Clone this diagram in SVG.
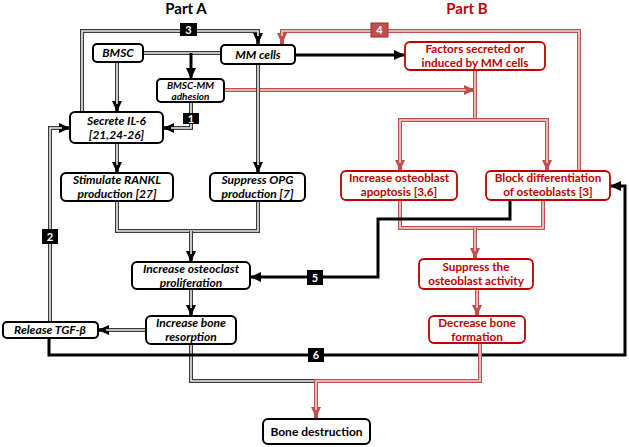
<svg xmlns="http://www.w3.org/2000/svg" width="629" height="447" viewBox="0 0 629 447">
<style>
.box{fill:#fff;stroke:#000;stroke-width:2}
.rbox{fill:#fff;stroke:#c00000;stroke-width:1.8}
.t{font-family:Lato,"Open Sans",sans-serif;font-weight:bold;font-style:italic;font-size:12px;text-anchor:middle;fill:#000}
.rt{font-family:Lato,"Open Sans",sans-serif;font-weight:bold;font-size:11.7px;text-anchor:middle;fill:#c00000}
.bt{font-family:Lato,"Open Sans",sans-serif;font-weight:bold;font-size:12px;text-anchor:middle;fill:#000}
.title{font-family:Lato,"Open Sans",sans-serif;font-weight:bold;font-size:15px;text-anchor:middle}
.go{fill:none;stroke:#3a3a3a;stroke-width:4}
.gi{fill:none;stroke:#ececec;stroke-width:1.6}
.ro{fill:none;stroke:#c0504d;stroke-width:4}
.ri{fill:none;stroke:#f4d2d1;stroke-width:1.6}
.bk{fill:none;stroke:#000;stroke-width:3}
.lbl{fill:#000}
.lt{font-family:Lato,"Open Sans",sans-serif;font-weight:bold;font-size:11px;text-anchor:middle;fill:#fff}
</style>
<defs>
<marker id="ab" markerUnits="userSpaceOnUse" markerWidth="12" markerHeight="12" viewBox="0 0 12 12" refX="11" refY="6" orient="auto">
<path d="M0,1 L11,6 L0,11 Z" fill="#000"/>
</marker>
<marker id="ar" markerUnits="userSpaceOnUse" markerWidth="12" markerHeight="12" viewBox="0 0 12 12" refX="11" refY="6" orient="auto">
<path d="M0,1 L11,6 L0,11 Z" fill="#c0504d"/>
</marker>
</defs>
<rect width="629" height="447" fill="#fff"/>
<text class="title" x="186" y="14" fill="#000">Part A</text>
<text class="title" x="467" y="14" fill="#c00000">Part B</text>

<g id="connectors">
<path class="go" d="M143,53 H221"/><path class="gi" d="M143,53 H221"/>
<path class="bk" d="M191,53 V79" marker-end="url(#ab)"/>
<path class="go" d="M117,62 V112" marker-end="url(#ab)"/><path class="gi" d="M117,62 V104"/>
<path class="go" d="M82,112 V31 H258 V44" marker-end="url(#ab)"/><path class="gi" d="M82,112 V31 H258 V36"/>
<path class="go" d="M191,102 V128 H163" marker-end="url(#ab)"/><path class="gi" d="M191,102 V128 H171"/>
<path class="ro" d="M224,90 H475" marker-end="url(#ar)"/><path class="ri" d="M224,90 H466"/>
<path class="go" d="M258,64 V173" marker-end="url(#ab)"/><path class="gi" d="M258,64 V165"/>
<path class="go" d="M117,143 V173" marker-end="url(#ab)"/><path class="gi" d="M117,143 V165"/>
<path class="go" d="M117,201 V231 H258 V201"/><path class="gi" d="M117,201 V231 H258 V201"/>
<path class="go" d="M191,231 V262" marker-end="url(#ab)"/><path class="gi" d="M191,231 V254"/>
<path class="go" d="M191,289 V316" marker-end="url(#ab)"/><path class="gi" d="M191,289 V308"/>
<path class="go" d="M146,330 H98" marker-end="url(#ab)"/><path class="gi" d="M146,330 H106"/>
<path class="go" d="M50,322 V128 H70" marker-end="url(#ab)"/><path class="gi" d="M50,322 V128 H62"/>
<path class="go" d="M191,344 V381 H316"/><path class="gi" d="M191,344 V381 H316"/>
<path class="bk" d="M49,338 V355 H625 V186 H610" marker-end="url(#ab)"/>
<path class="bk" d="M295,55 H405" marker-end="url(#ab)"/>
<path class="ro" d="M475,70 V120"/><path class="ri" d="M475,70 V120"/>
<path class="ro" d="M400,171 V120 H547 V171" marker-end="url(#ar)"/>
<path class="ro" d="M400,120 V171" marker-end="url(#ar)"/>
<path class="ri" d="M400,163 V120 H547 V163"/>
<path class="ro" d="M579,171 V31 H282 V44" marker-end="url(#ar)"/><path class="ri" d="M579,171 V31 H282 V36"/>
<path class="ro" d="M400,200 V228 H543 V200"/><path class="ri" d="M400,200 V228 H543 V200"/>
<path class="ro" d="M475,228 V259" marker-end="url(#ar)"/><path class="ri" d="M475,228 V251"/>
<path class="bk" d="M510,200 V219 H378 V277 H250" marker-end="url(#ab)"/>
<path class="ro" d="M477,289 V316" marker-end="url(#ar)"/><path class="ri" d="M477,289 V308"/>
<path class="ro" d="M480,343 V381 H316 V418" marker-end="url(#ar)"/><path class="ri" d="M480,343 V381 H316 V410"/>
<rect x="180" y="23" width="17" height="13" class="lbl"/><text class="lt" x="188.5" y="33.5">3</text>
<rect x="183" y="113" width="16" height="11" class="lbl"/><text class="lt" x="191" y="122.5">1</text>
<rect x="42" y="229" width="16" height="15" class="lbl"/><text class="lt" x="50" y="240.5">2</text>
<rect x="307" y="270" width="16" height="15" class="lbl"/><text class="lt" x="315" y="281.5">5</text>
<rect x="308" y="348" width="16" height="14" class="lbl"/><text class="lt" x="316" y="359">6</text>
<rect x="371" y="23" width="17" height="14" fill="#c0504d" stroke="#a32a27" stroke-width="1"/><text class="lt" x="379.5" y="34">4</text>
</g>

<g id="bmsc"><rect class="box" x="93" y="44" width="50" height="18" rx="4"/><text class="t" x="118" y="57">BMSC</text></g>
<g id="mm"><rect class="box" x="221" y="45" width="74" height="19" rx="4"/><text class="t" x="258" y="59">MM cells</text></g>
<g id="adhesion"><rect class="box" x="157" y="79" width="67" height="23" rx="4"/><text class="t" x="190.5" y="89" style="font-size:10px">BMSC-MM</text><text class="t" x="190.5" y="99.5" style="font-size:10px">adhesion</text></g>
<g id="il6"><rect class="box" x="70" y="112" width="93" height="31" rx="5"/><text class="t" x="116.5" y="125">Secrete IL-6</text><text class="t" x="116.5" y="139">[21,24-26]</text></g>
<g id="rankl"><rect class="box" x="61" y="173" width="112" height="28" rx="5"/><text class="t" x="117" y="184">Stimulate RANKL</text><text class="t" x="117" y="198">production [27]</text></g>
<g id="opg"><rect class="box" x="210" y="173" width="95" height="28" rx="5"/><text class="t" x="257.5" y="184">Suppress OPG</text><text class="t" x="257.5" y="198">production [7]</text></g>
<g id="osteoclast"><rect class="box" x="132" y="262" width="118" height="27" rx="5"/><text class="t" x="191" y="273">Increase osteoclast</text><text class="t" x="191" y="287">proliferation</text></g>
<g id="resorption"><rect class="box" x="146" y="316" width="90" height="28" rx="5"/><text class="t" x="191" y="327">Increase bone</text><text class="t" x="191" y="341">resorption</text></g>
<g id="tgf"><rect class="box" x="3" y="322" width="95" height="16" rx="4"/><text class="t" x="50" y="334">Release TGF-β</text></g>
<g id="factors"><rect class="rbox" x="405" y="42" width="140" height="28" rx="5"/><text class="rt" x="475" y="53">Factors secreted or</text><text class="rt" x="475" y="67">induced by MM cells</text></g>
<g id="apoptosis"><rect class="rbox" x="341" y="171" width="116" height="29" rx="5"/><text class="rt" x="399" y="182">Increase osteoblast</text><text class="rt" x="399" y="196">apoptosis [3,6]</text></g>
<g id="block"><rect class="rbox" x="486" y="171" width="124" height="29" rx="5"/><text class="rt" x="548" y="182">Block differentiation</text><text class="rt" x="548" y="196">of osteoblasts [3]</text></g>
<g id="suppress"><rect class="rbox" x="419" y="259" width="114" height="30" rx="5"/><text class="rt" x="476" y="271">Suppress the</text><text class="rt" x="476" y="285">osteoblast activity</text></g>
<g id="decrease"><rect class="rbox" x="429" y="316" width="96" height="27" rx="5"/><text class="rt" x="477" y="327">Decrease bone</text><text class="rt" x="477" y="341">formation</text></g>
<g id="bone"><rect class="box" x="263" y="419" width="107" height="25" rx="5"/><text class="bt" x="316.5" y="436">Bone destruction</text></g>
</svg>
